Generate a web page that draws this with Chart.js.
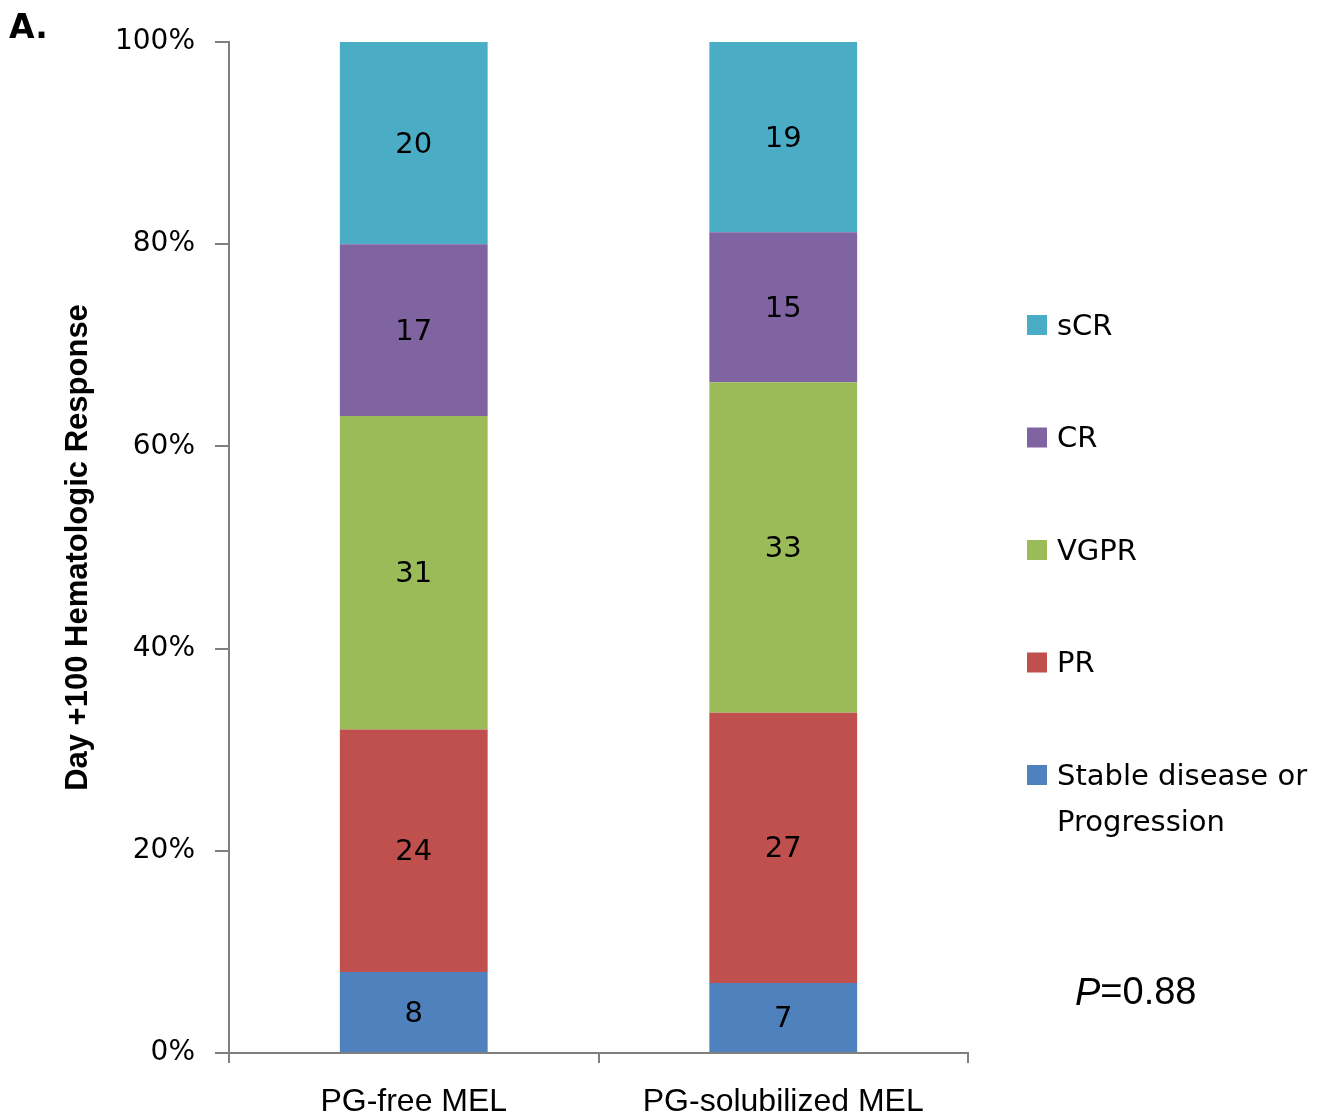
<!DOCTYPE html>
<html>
<head>
<meta charset="utf-8">
<script src="https://cdn.jsdelivr.net/npm/chart.js@4"></script>
<style>
  html, body { margin: 0; padding: 0; background: #fff; }
  #wrap { width: 1333px; height: 1117px; position: relative; }
</style>
</head>
<body>
<div id="wrap"><canvas id="myChart" width="1333" height="1117"></canvas></div>
<script>
// groups on the x axis
const groups = ['PG-free MEL', 'PG-solubilized MEL'];

// patient counts per response category (bottom of stack first)
const stableProg = [8, 7];
const pr = [24, 27];
const vgpr = [31, 33];
const cr = [17, 15];
const scr = [20, 19];

const seriesNames = ['Stable disease or Progression', 'PR', 'VGPR', 'CR', 'sCR'];
const seriesColors = ['#4F81BD', '#C0504D', '#9BBB59', '#8064A2', '#4BACC6'];
const yTicks = [0, 20, 40, 60, 80, 100];
const pValueText = '0.88';

const counts = [stableProg, pr, vgpr, cr, scr];

// 100% stacked: share of each group total
let totals = [];
for (let i = 0; i < groups.length; i++) {
  let t = 0;
  for (let s = 0; s < counts.length; s++) t += counts[s][i];
  totals.push(t);
}

let datasets = [];
for (let s = 0; s < counts.length; s++) {
  datasets.push({
    label: seriesNames[s],
    data: counts[s].map((v, i) => v / totals[i] * 100),
    counts: counts[s],
    backgroundColor: seriesColors[s],
    borderWidth: 0,
    barPercentage: 0.4,
    categoryPercentage: 1.0
  });
}

const axisGrey = '#7f7f7f';

// numbers inside the bars, legend, panel letter and P value
const extras = {
  id: 'extras',
  afterDatasetsDraw(chart) {
    const c = chart.ctx;
    c.save();
    c.fillStyle = '#000';
    c.textAlign = 'center';
    c.textBaseline = 'middle';
    c.font = '29px "DejaVu Sans"';
    chart.data.datasets.forEach((ds, di) => {
      chart.getDatasetMeta(di).data.forEach((bar, i) => {
        const p = bar.getProps(['x', 'y', 'base'], true);
        c.fillText(String(ds.counts[i]), p.x, (p.y + p.base) / 2 + 2);
      });
    });

    // legend, top item is last dataset
    c.textAlign = 'left';
    c.font = '29px "DejaVu Sans"';
    const legX = 1027, legY0 = 325, legStep = 112.5;
    const order = chart.data.datasets.slice().reverse();
    order.forEach((ds, k) => {
      const y = legY0 + k * legStep;
      c.fillStyle = ds.backgroundColor;
      c.fillRect(legX, y - 10, 20, 20);
      c.fillStyle = '#000';
      if (ds.label === 'Stable disease or Progression') {
        c.fillText('Stable disease or', legX + 30, y + 2);
        c.fillText('Progression', legX + 30, y + 48);
      } else {
        c.fillText(ds.label, legX + 30, y + 2);
      }
    });

    // panel letter
    c.font = 'bold 33px "DejaVu Sans"';
    c.fillText('A.', 9, 29);

    // P value
    c.font = 'italic 38px "Liberation Sans"';
    c.fillText('P', 1075, 994);
    const pw = c.measureText('P').width;
    c.font = '38px "Liberation Sans"';
    c.fillText('=' + pValueText, 1075 + pw, 994);
    c.restore();
  }
};

const ctx = document.getElementById('myChart').getContext('2d');
const myChart = new Chart(ctx, {
  type: 'bar',
  data: {
    labels: groups,
    datasets: datasets
  },
  options: {
    responsive: false,
    animation: false,
    layout: {
      padding: { left: 0, right: 365, top: 42, bottom: 0 }
    },
    plugins: {
      legend: { display: false },
      tooltip: { enabled: false }
    },
    scales: {
      x: {
        stacked: true,
        afterFit: (s) => { s.height = 64; },
        grid: {
          offset: true,
          drawOnChartArea: false,
          drawTicks: true,
          tickLength: 10,
          color: axisGrey,
          lineWidth: 2
        },
        border: { color: axisGrey, width: 2 },
        ticks: {
          color: '#000',
          padding: 20,
          font: { family: 'Liberation Sans', size: 32 }
        }
      },
      y: {
        stacked: true,
        min: 0,
        max: 100,
        afterFit: (s) => { s.width = 229; },
        afterBuildTicks: (s) => { s.ticks = yTicks.map(v => ({ value: v })); },
        grid: {
          drawOnChartArea: false,
          drawTicks: true,
          tickLength: 14,
          color: axisGrey,
          lineWidth: 2
        },
        border: { color: axisGrey, width: 2 },
        ticks: {
          color: '#000',
          padding: 20,
          font: { family: 'DejaVu Sans', size: 28 },
          callback: (v) => v + '%'
        },
        title: {
          display: true,
          text: 'Day +100 Hematologic Response',
          color: '#000',
          padding: { top: 60, bottom: 0 },
          font: { family: 'Liberation Sans', size: 31, weight: 'bold' }
        }
      }
    }
  },
  plugins: [extras]
});
</script>
</body>
</html>
